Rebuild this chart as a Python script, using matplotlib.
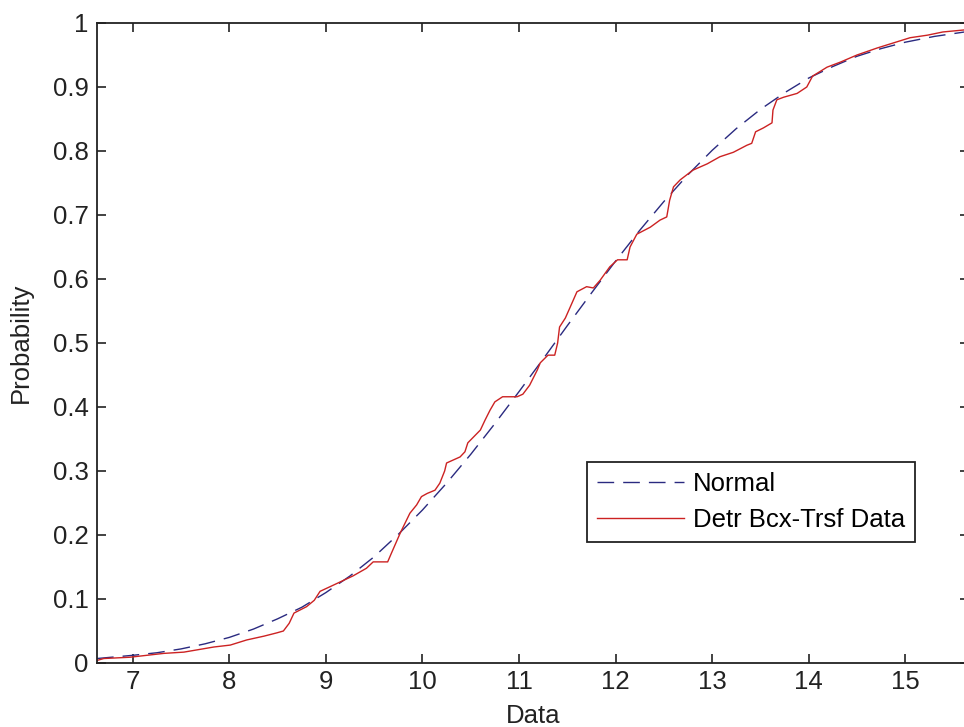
import matplotlib.pyplot as plt

plt.rcParams['font.family'] = ['Liberation Sans', 'DejaVu Sans']

# fitted normal CDF
normal_x = [6.63, 7.0, 7.25, 7.5, 7.75, 8.0, 8.25, 8.5, 8.75, 9.0, 9.25, 9.5, 9.75,
            10.0, 10.25, 10.5, 10.75, 11.0, 11.25, 11.5, 11.75, 12.0, 12.25, 12.5,
            12.75, 13.0, 13.25, 13.5, 13.75, 14.0, 14.25, 14.5, 14.75, 15.0, 15.3, 15.66]
normal_y = [0.007, 0.012, 0.016, 0.022, 0.030, 0.040, 0.053, 0.069, 0.087, 0.110,
            0.136, 0.166, 0.201, 0.239, 0.281, 0.326, 0.374, 0.424, 0.475, 0.527,
            0.578, 0.628, 0.676, 0.721, 0.763, 0.801, 0.835, 0.865, 0.891, 0.914,
            0.932, 0.948, 0.960, 0.970, 0.979, 0.987]

data_x = [6.63, 6.70, 6.97, 7.32, 7.53, 7.84, 8.01, 8.18, 8.36, 8.49, 8.56, 8.62,
          8.67, 8.80, 8.88, 8.94, 9.04, 9.28, 9.42, 9.49, 9.64, 9.68, 9.77, 9.87,
          9.94, 9.99, 10.05, 10.13, 10.18, 10.23, 10.25, 10.39, 10.44, 10.47, 10.60,
          10.65, 10.70, 10.75, 10.83, 10.98, 11.04, 11.11, 11.19, 11.22, 11.30, 11.37,
          11.40, 11.42, 11.48, 11.53, 11.60, 11.70, 11.77, 11.84, 11.94, 12.02, 12.12,
          12.15, 12.22, 12.36, 12.46, 12.53, 12.56, 12.60, 12.67, 12.80, 12.95, 13.08,
          13.22, 13.36, 13.41, 13.45, 13.53, 13.62, 13.63, 13.67, 13.74, 13.88, 13.98,
          14.04, 14.19, 14.33, 14.50, 14.71, 14.88, 15.05, 15.23, 15.39, 15.60, 15.66]
data_y = [0.004, 0.007, 0.009, 0.015, 0.017, 0.025, 0.028, 0.036, 0.042, 0.047, 0.050,
          0.062, 0.078, 0.088, 0.098, 0.112, 0.119, 0.136, 0.148, 0.158, 0.158, 0.172,
          0.203, 0.234, 0.247, 0.260, 0.265, 0.270, 0.281, 0.300, 0.3125, 0.322, 0.330,
          0.344, 0.364, 0.380, 0.395, 0.408, 0.416, 0.416, 0.420, 0.434, 0.458, 0.469,
          0.481, 0.481, 0.500, 0.525, 0.539, 0.556, 0.580, 0.588, 0.586, 0.598, 0.619,
          0.630, 0.630, 0.650, 0.670, 0.681, 0.692, 0.697, 0.723, 0.744, 0.755, 0.770,
          0.780, 0.791, 0.798, 0.809, 0.812, 0.830, 0.836, 0.844, 0.864, 0.880, 0.884,
          0.890, 0.900, 0.917, 0.931, 0.939, 0.950, 0.961, 0.969, 0.977, 0.981, 0.986,
          0.989, 0.990]

x_ticks = [7, 8, 9, 10, 11, 12, 13, 14, 15]
y_ticks = [0, 0.1, 0.2, 0.3, 0.4, 0.5, 0.6, 0.7, 0.8, 0.9, 1]
y_labels = ['0', '0.1', '0.2', '0.3', '0.4', '0.5', '0.6', '0.7', '0.8', '0.9', '1']

fs = 18.5

fig = plt.figure(figsize=(9.64, 7.27), dpi=100)
ax = fig.add_axes([97 / 964, 64 / 727, 872 / 964, 640 / 727])

ax.plot(normal_x, normal_y, color='#2a2a80', linewidth=1.0, dashes=(12, 6.5), label='Normal')
ax.plot(data_x, data_y, color='#cc2222', linewidth=1.0, label='Detr Bcx-Trsf Data')

ax.set_xlim(6.63, 15.66)
ax.set_ylim(0, 1)
ax.set_xticks(x_ticks)
ax.set_yticks(y_ticks)
ax.set_yticklabels(y_labels)
ax.tick_params(direction='in', length=6.5, width=1.2, top=True, right=True,
               labelsize=fs, colors='#222222')
ax.tick_params(axis='y', pad=6)
ax.tick_params(axis='x', pad=5)
for s in ax.spines.values():
    s.set_linewidth(1.3)
    s.set_color('#222222')

ax.set_xlabel('Data', fontsize=fs, labelpad=7, color='#222222')
ax.set_ylabel('Probability', fontsize=fs, labelpad=14, color='#222222')

leg = ax.legend(loc='lower left', bbox_to_anchor=(0.562, 0.189), borderaxespad=0,
                fontsize=fs, fancybox=False, framealpha=1, edgecolor='#222222',
                handlelength=3.4, handletextpad=0.35, labelspacing=0.47,
                borderpad=0.38)
leg.get_frame().set_linewidth(1.3)

fig.savefig('out.png', dpi=100)
